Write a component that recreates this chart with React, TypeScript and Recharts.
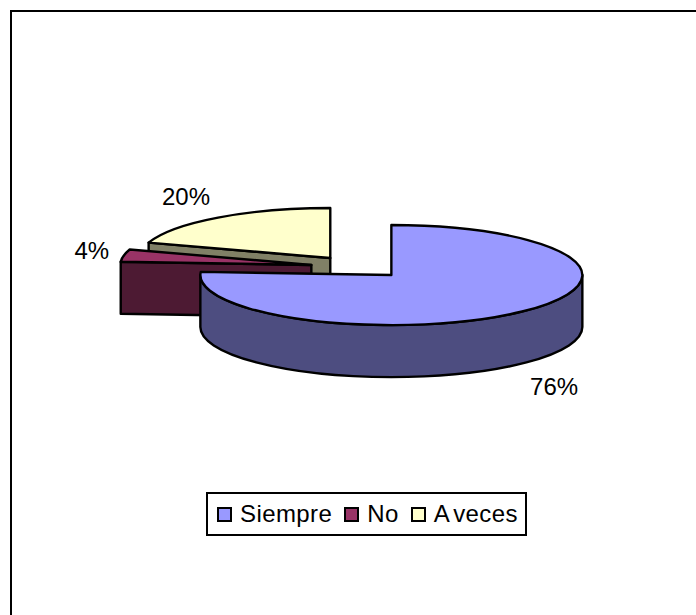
import React from 'react'
import { PieChart, Pie, Cell, Legend } from 'recharts'

const categories = ['Siempre', 'No', 'A veces']
const values = [76, 4, 20]
const topColors = ['#9999FF', '#993366', '#FFFFCC']
const sideColors = ['#4D4D80', '#4D1A33', '#808066']

// drawn back to front, so the pie runs counter-clockwise from the top
const backToFront = [2, 1, 0]
const pieData = backToFront.map((i) => ({ name: categories[i], value: values[i], top: topColors[i], side: sideColors[i] }))

const RX = 191
const TILT = 0.262
const DEPTH = 52
const EXPLODE = 48
const EXPLODE_TILT = 0.23
const RAD = Math.PI / 180

const pt = (cx: number, cy: number, deg: number) => [cx + RX * Math.cos(deg * RAD), cy - RX * TILT * Math.sin(deg * RAD)]

const offset = (cx: number, cy: number, mid: number) => [cx + EXPLODE * Math.cos(mid * RAD), cy - EXPLODE * EXPLODE_TILT * Math.sin(mid * RAD)]

const slicePath = (cx: number, cy: number, a0: number, a1: number) => {
  const [x0, y0] = pt(cx, cy, a0)
  const [x1, y1] = pt(cx, cy, a1)
  const big = Math.abs(a1 - a0) > 180 ? 1 : 0
  return `M${cx},${cy}L${x0},${y0}A${RX},${RX * TILT} 0 ${big} 0 ${x1},${y1}Z`
}

// one wedge: walls first and the top face over them
const Slice3D = (props: any) => {
  const { cx, cy, startAngle, endAngle, payload } = props
  const a0 = Math.min(startAngle, endAngle)
  const a1 = Math.max(startAngle, endAngle)
  const [ox, oy] = offset(cx, cy, (a0 + a1) / 2)
  const walls: string[] = []
  // flat cut walls, only the ones turned to the viewer
  const cut = (a: number) => {
    const [x, y] = pt(ox, oy, a)
    walls.push(`M${ox},${oy}L${x},${y}L${x},${y + DEPTH}L${ox},${oy + DEPTH}Z`)
  }
  if (Math.cos(a0 * RAD) > 0.001) cut(a0)
  if (Math.cos(a1 * RAD) < -0.001) cut(a1)
  // curved outer wall, only the part between 180 and 360 faces the viewer
  const w0 = Math.max(a0, 180)
  const w1 = Math.min(a1, 360)
  if (w1 > w0) {
    const [x0, y0] = pt(ox, oy, w0)
    const [x1, y1] = pt(ox, oy, w1)
    walls.push(`M${x0},${y0}A${RX},${RX * TILT} 0 0 0 ${x1},${y1}L${x1},${y1 + DEPTH}A${RX},${RX * TILT} 0 0 1 ${x0},${y0 + DEPTH}Z`)
  }
  return (
    <g>
      {walls.map((d, i) => (
        <path key={i} d={d} fill={payload.side} stroke="#000" strokeWidth={2.4} strokeLinejoin="round" />
      ))}
      <path d={slicePath(ox, oy, a0, a1)} fill={payload.top} stroke="#000" strokeWidth={2.4} strokeLinejoin="round" />
    </g>
  )
}

const renderLabel = (props: any) => {
  const { cx, cy, midAngle, value } = props
  const c = Math.cos(midAngle * RAD)
  const s = Math.sin(midAngle * RAD)
  const [ox, oy] = offset(cx, cy, midAngle)
  const front = s < 0 ? DEPTH + 4 : 0
  const x = ox + RX * c + 32 * Math.sign(c)
  const y = oy - RX * TILT * s - 26 * s + front
  return (
    <text x={x} y={y} textAnchor="middle" dominantBaseline="central" fill="#000" fontSize={24} fontFamily="Liberation Sans">
      {value}%
    </text>
  )
}

const ChartLegend = () => (
  <div style={{ boxSizing: 'border-box', width: 321, height: 44, border: '2px solid #000', background: '#fff', display: 'flex', alignItems: 'center', paddingLeft: 9, fontFamily: 'Liberation Sans', fontSize: 24, letterSpacing: 0.4, wordSpacing: -4, fontKerning: 'none', color: '#000', whiteSpace: 'nowrap' }}>
    {categories.map((name, i) => (
      <span key={name} style={{ display: 'flex', alignItems: 'center', marginRight: 12 }}>
        <span style={{ boxSizing: 'border-box', width: 15, height: 15, border: '2px solid #000', background: topColors[i], marginRight: 8 }} />
        {name}
      </span>
    ))}
  </div>
)

export default function App() {
  return (
    <div style={{ position: 'absolute', left: 0, top: 0, width: 696, height: 615, background: '#fff', overflow: 'hidden' }}>
      <div style={{ position: 'absolute', left: 10, top: 10, width: 700, height: 620, border: '2px solid #000', boxSizing: 'border-box' }} />
      <div style={{ position: 'absolute', left: 0, top: 0, width: 696, height: 615 }}>
        <PieChart width={696} height={615} margin={{ top: 0, right: 0, bottom: 0, left: 0 }}>
          <Pie
            data={pieData}
            dataKey="value"
            nameKey="name"
            cx={358.5}
            cy={267}
            outerRadius={RX}
            startAngle={90}
            endAngle={450}
            stroke="none"
            shape={Slice3D}
            label={renderLabel}
            labelLine={false}
            isAnimationActive={false}
          >
            {pieData.map((d) => (
              <Cell key={d.name} fill={d.top} />
            ))}
          </Pie>
          <Legend content={ChartLegend} layout="horizontal" wrapperStyle={{ position: 'absolute', left: 206, top: 492, width: 321, height: 44 }} />
        </PieChart>
      </div>
    </div>
  )
}
